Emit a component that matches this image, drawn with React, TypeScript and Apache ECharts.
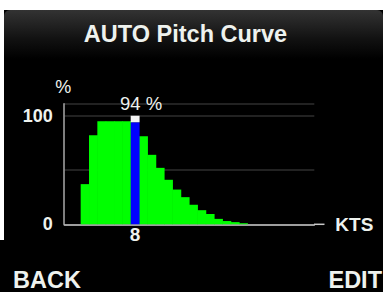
import React, { useEffect, useRef } from "react";
import * as echarts from "echarts";

const title = "AUTO Pitch Curve";
const speedCategories = [
  "0", "1", "2", "3", "4", "5", "6", "7", "8", "9",
  "10", "11", "12", "13", "14", "15", "16", "17", "18", "19",
  "20", "21", "22", "23", "24", "25", "26", "27", "28", "29",
];
// pitch % per speed (kts); selected speed drawn separately
const pitchValues: (number | string)[] = [
  "-", "-", 37, 82, 95, 95, 95, 95, "-", 81,
  64, 52, 41, 32, 25, 18, 13, 9.5, 5, 3,
  2, 1, "-", "-", "-", "-", "-", "-", "-", "-",
];
const selectedIndex = 8;
const selectedValue = 94;
const markerTop = 100;
const yTickLabels = ["0", "100"];

export default function App() {
  const ref = useRef<HTMLDivElement>(null);
  useEffect(() => {
    if (!ref.current) return;
    const chart = echarts.init(ref.current, null, { renderer: "svg" });
    const blue = speedCategories.map((_, i) => (i === selectedIndex ? selectedValue : "-"));
    const cap = speedCategories.map((_, i) => (i === selectedIndex ? markerTop - selectedValue : "-"));
    const font = "'Liberation Sans', Arial, sans-serif";
    const txt = "#eef2ee";
    const barW = 8.9;
    chart.setOption({
      animation: false,
      backgroundColor: "#000",
      textStyle: { fontFamily: font },
      grid: { left: 64.3, right: 68.7, top: 103.8, bottom: 67.7 },
      xAxis: {
        type: "category",
        data: speedCategories,
        boundaryGap: true,
        name: "KTS",
        nameLocation: "end",
        nameGap: 21,
        nameTextStyle: { color: txt, fontSize: 19, fontWeight: "bold", fontFamily: font, verticalAlign: "middle", padding: [9, 0, 0, 0] },
        axisLine: { show: true, lineStyle: { color: "#c8c8c8", width: 1.5 } },
        axisTick: { show: false },
        splitLine: { show: false },
        axisLabel: {
          color: txt,
          fontSize: 19,
          fontWeight: "bold",
          fontFamily: font,
          margin: 1,
          interval: 0,
          formatter: (v: string, i: number) => (i === selectedIndex ? v : ""),
        },
      },
      yAxis: {
        type: "value",
        min: 0,
        max: 111,
        interval: 50,
        offset: 1,
        name: "%",
        nameLocation: "end",
        nameGap: 8,
        nameTextStyle: { color: txt, fontSize: 18, fontFamily: font, align: "center" },
        axisLine: { show: true, lineStyle: { color: "#a8a8a8", width: 1.5 } },
        axisTick: { show: false },
        splitLine: { show: true, lineStyle: { color: "#2e2e2e", width: 1.5 } },
        axisLabel: {
          color: txt,
          fontSize: 18,
          fontWeight: "bold",
          fontFamily: font,
          margin: 10.5,
          padding: [5, 0, 0, 0],
          formatter: (v: number) => (yTickLabels.includes(String(v)) ? String(v) : ""),
        },
      },
      series: [
        {
          type: "bar",
          stack: "p",
          data: pitchValues,
          barWidth: barW,
          itemStyle: { color: "#00ff00" },
        },
        {
          type: "bar",
          stack: "p",
          data: blue,
          barWidth: barW,
          z: 3,
          itemStyle: { color: "#0000ff" },
        },
        {
          type: "bar",
          stack: "p",
          data: cap,
          barWidth: barW,
          z: 3,
          itemStyle: { color: "#f4f4f4" },
          label: {
            show: true,
            position: "top",
            distance: 3,
            offset: [6, 0],
            color: txt,
            fontSize: 18.5,
            fontFamily: font,
            formatter: () => `${selectedValue} %`,
          },
        },
      ],
      graphic: [
        { type: "rect", shape: { x: 0, y: 0, width: 383, height: 10 }, style: { fill: "#fff" }, z: 100 },
        { type: "rect", shape: { x: 0, y: 0, width: 4, height: 240 }, style: { fill: "#fff" }, z: 100 },
        {
          type: "rect",
          shape: { x: 4, y: 10, width: 379, height: 49, r: 6 },
          style: {
            fill: new echarts.graphic.LinearGradient(0, 0, 0, 1, [
              { offset: 0, color: "#333333" },
              { offset: 0.6, color: "#111111" },
              { offset: 1, color: "#000000" },
            ]),
          },
          z: 50,
        },
        {
          type: "text",
          x: 185.5,
          y: 34,
          style: { text: title, fill: txt, font: `bold 23.5px ${font}`, align: "center", verticalAlign: "middle" },
          z: 60,
        },
        {
          type: "line",
          shape: { x1: 314, y1: 224.3, x2: 324.5, y2: 224.3 },
          style: { stroke: "#c8c8c8", lineWidth: 1.5 },
          z: 60,
        },
        {
          type: "text",
          x: 13,
          y: 280,
          style: { text: "BACK", fill: txt, font: `bold 23.5px ${font}`, align: "left", verticalAlign: "middle" },
          z: 60,
        },
        {
          type: "text",
          x: 382,
          y: 280,
          style: { text: "EDIT", fill: txt, font: `bold 23.5px ${font}`, align: "right", verticalAlign: "middle" },
          z: 60,
        },
      ],
    });
    return () => chart.dispose();
  }, []);
  return <div ref={ref} style={{ position: "absolute", left: 0, top: 0, width: 383, height: 292 }} />;
}
